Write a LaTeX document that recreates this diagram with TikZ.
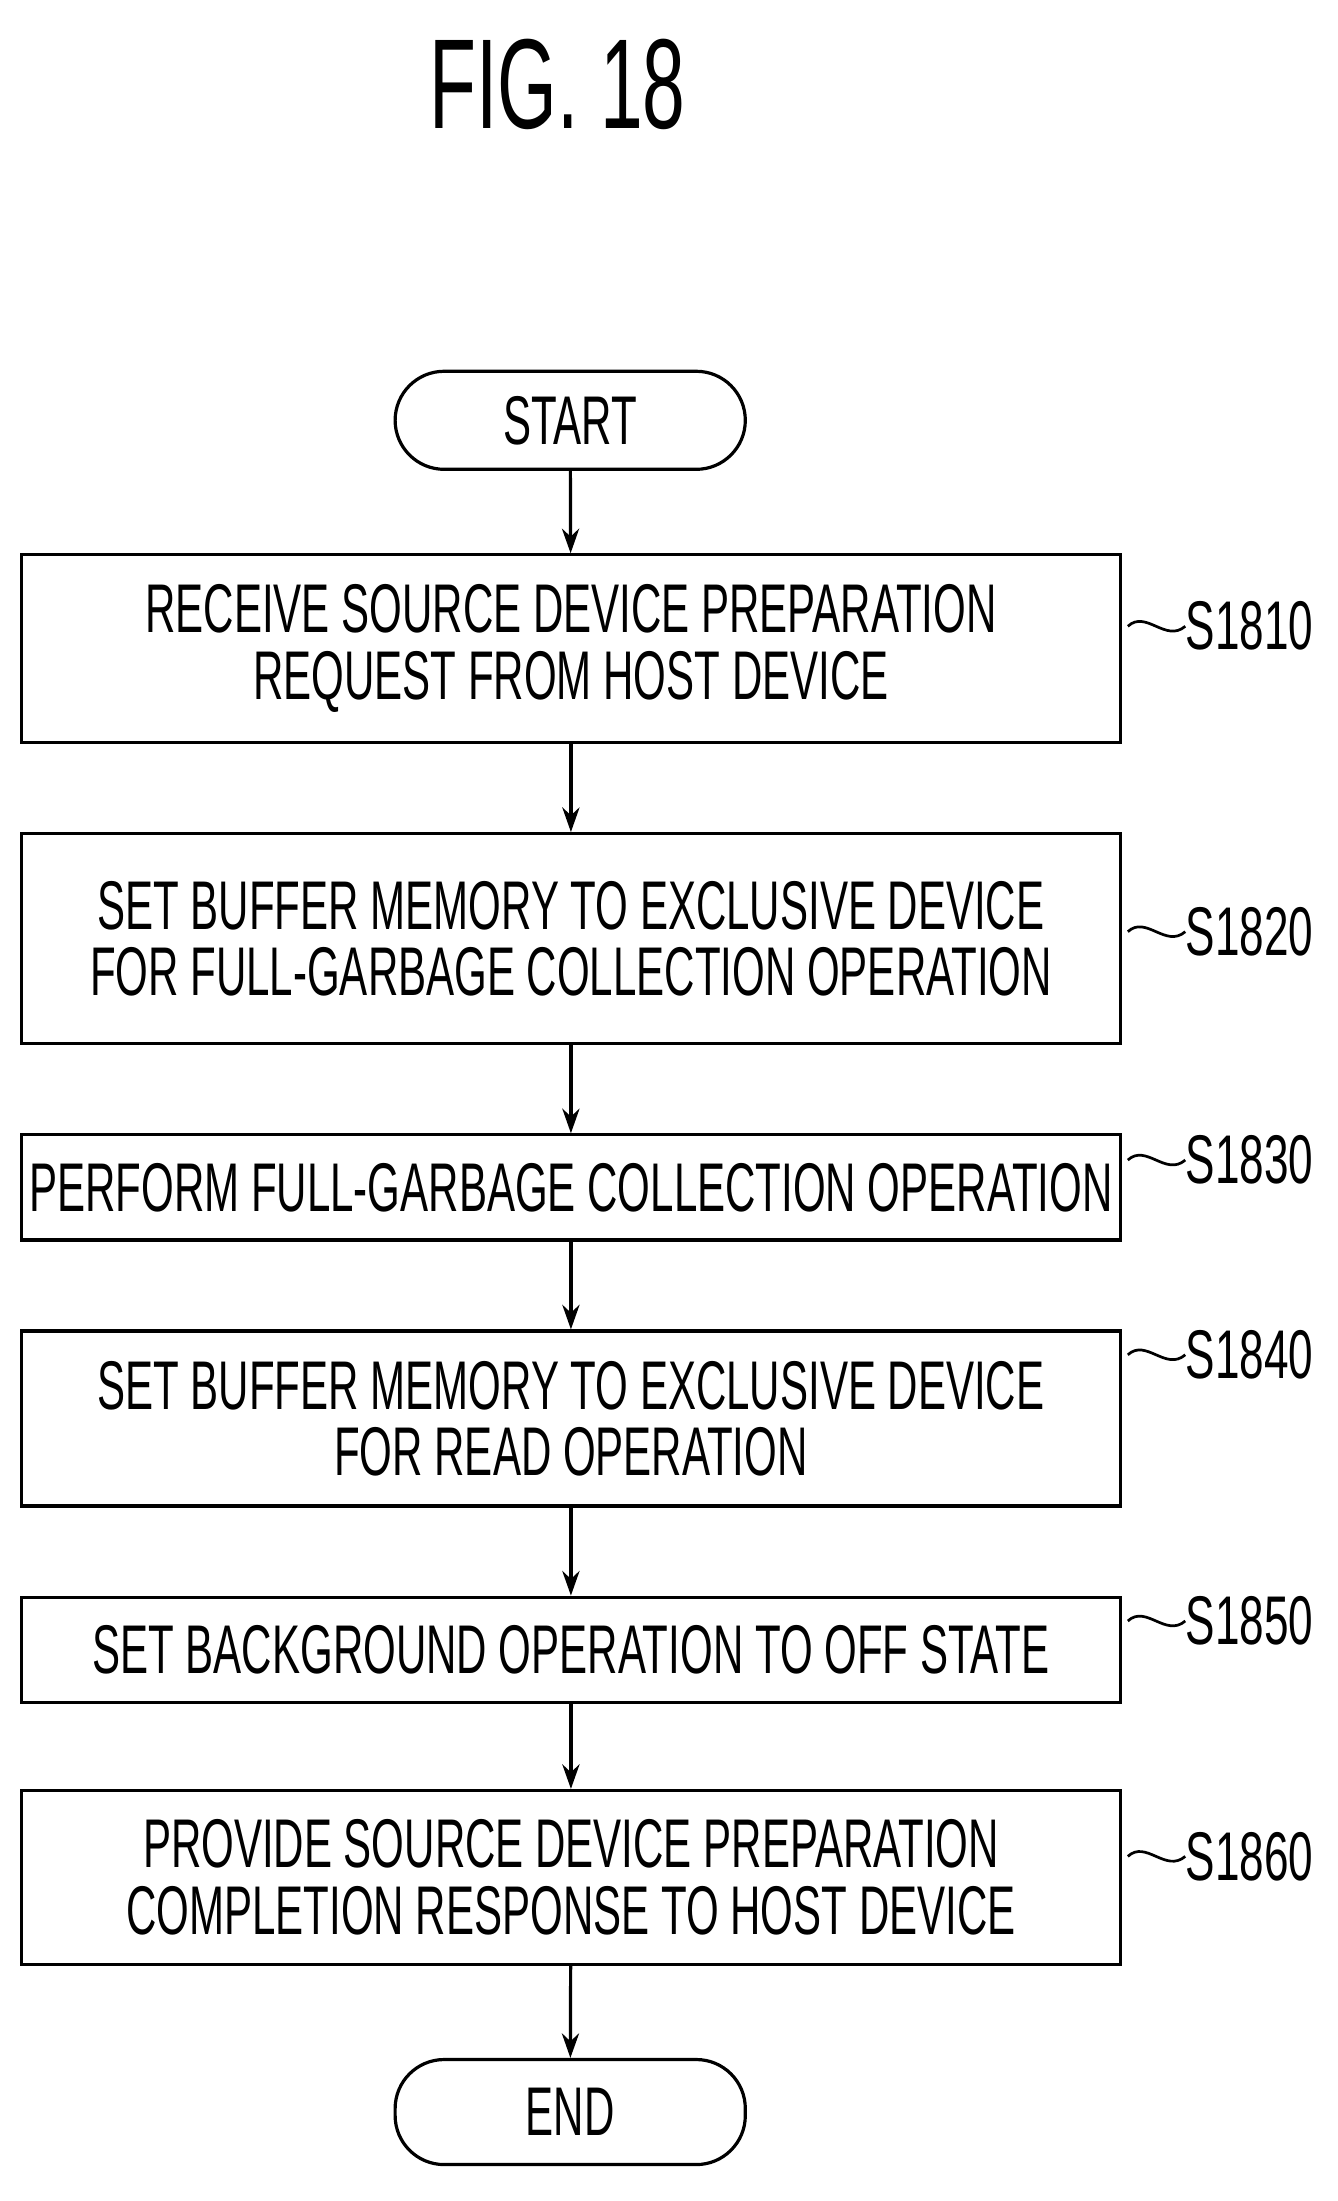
\documentclass[tikz,border=0pt]{standalone}
\usepackage{fontspec}
\setmainfont{Liberation Sans}
\usetikzlibrary{arrows.meta}
\newcommand{\sq}[1]{\scalebox{0.61}[1]{#1}}
\begin{document}
\begin{tikzpicture}[x=0.02cm,y=-0.02cm,
  box/.style={draw,line width=1.3pt,minimum width=15.7cm,inner sep=0pt,align=center,font=\fontsize{28}{27}\selectfont},
  term/.style={draw,line width=1.3pt,minimum width=5cm,rounded corners=0.7cm,inner sep=0pt,font=\fontsize{28}{27}\selectfont},
  lab/.style={anchor=west,inner sep=0pt,font=\fontsize{28}{27}\selectfont},
  arr/.style={line width=1.3pt,-{Stealth[length=10pt,width=7pt]}},
  squig/.style={line width=1.1pt}]
\useasboundingbox (0,0) rectangle (955,1571);
\node[font=\fontsize{52}{52}\selectfont] (title) at (398,60) {\scalebox{0.6}[1]{FIG. 18}};
\node[term,minimum height=1.4cm] (start) at (407,300) {\sq{START}};
\node[box,minimum height=2.68cm] (b1) at (407.5,463) {\sq{RECEIVE SOURCE DEVICE PREPARATION}\\\sq{REQUEST FROM HOST DEVICE}};
\node[box,minimum height=3.0cm] (b2) at (407.5,670) {\sq{SET BUFFER MEMORY TO EXCLUSIVE DEVICE}\\\sq{FOR FULL-GARBAGE COLLECTION OPERATION}};
\node[box,minimum height=1.5cm] (b3) at (407.5,847.5) {\sq{PERFORM FULL-GARBAGE COLLECTION OPERATION}};
\node[box,minimum height=2.5cm] (b4) at (407.5,1012.5) {\sq{SET BUFFER MEMORY TO EXCLUSIVE DEVICE}\\\sq{FOR READ OPERATION}};
\node[box,minimum height=1.5cm] (b5) at (407.5,1177.5) {\sq{SET BACKGROUND OPERATION TO OFF STATE}};
\node[box,minimum height=2.48cm] (b6) at (407.5,1340) {\sq{PROVIDE SOURCE DEVICE PREPARATION}\\\sq{COMPLETION RESPONSE TO HOST DEVICE}};
\node[term,minimum height=1.5cm] (end) at (407,1507.5) {\sq{END}};
\draw[arr] (start) -- (b1);
\draw[arr] (b1) -- (b2);
\draw[arr] (b2) -- (b3);
\draw[arr] (b3) -- (b4);
\draw[arr] (b4) -- (b5);
\draw[arr] (b5) -- (b6);
\draw[arr] (b6) -- (end);
\foreach \n/\t/\y in {l1/S1810/447,l2/S1820/665,l3/S1830/828,l4/S1840/967,l5/S1850/1157,l6/S1860/1325}{
  \coordinate (\n s) at (805,\y);
  \node[lab] (\n) at (846,\y) {\scalebox{0.64}[1]{\t}};
  \draw[squig] (\n s) .. controls (818,\y-12) and (832,\y+12) .. (\n.west);
}
\end{tikzpicture}
\end{document}
